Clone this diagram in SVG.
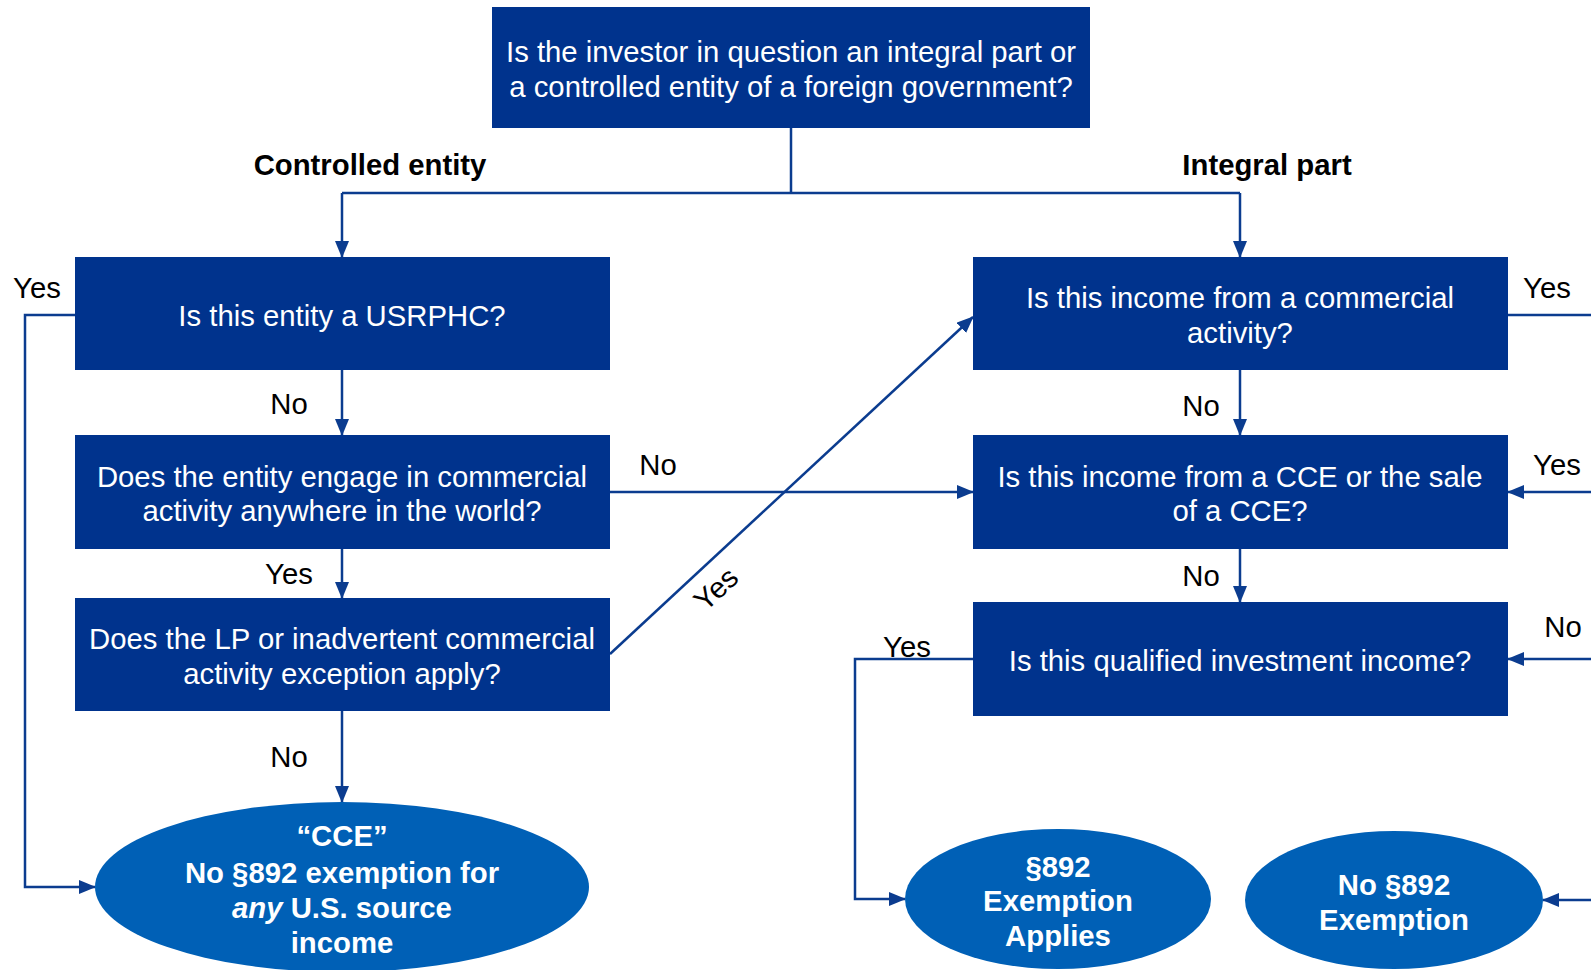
<svg xmlns="http://www.w3.org/2000/svg" width="1591" height="970" viewBox="0 0 1591 970">
<defs>
<marker id="ah" markerUnits="userSpaceOnUse" markerWidth="17" markerHeight="14" refX="16" refY="7" orient="auto">
<path d="M0,0 L17,7 L0,14 Z" fill="#0B3C8F"/>
</marker>
<style>
.box{fill:#00338D}
.ell{fill:#0060B6}
.bt{font-family:"Liberation Sans",Arial,sans-serif;font-size:29.3px;fill:#fff;text-anchor:middle}
.et{font-family:"Liberation Sans",Arial,sans-serif;font-size:29.3px;font-weight:bold;fill:#fff;text-anchor:middle}
.lb{font-family:"Liberation Sans",Arial,sans-serif;font-size:29.3px;fill:#000;text-anchor:middle}
.hd{font-family:"Liberation Sans",Arial,sans-serif;font-size:29.3px;font-weight:bold;fill:#000;text-anchor:middle}
.cn{fill:none;stroke:#0B3C8F;stroke-width:2.5}
</style>
</defs>
<rect width="1591" height="970" fill="#fff"/>
<g id="connectors">
<path class="cn" d="M791,128 V193 M342,193 H1240"/>
<path class="cn" d="M342,193 V257" marker-end="url(#ah)"/>
<path class="cn" d="M1240,193 V257" marker-end="url(#ah)"/>
<path class="cn" d="M342,370 V435" marker-end="url(#ah)"/>
<path class="cn" d="M342,549 V598" marker-end="url(#ah)"/>
<path class="cn" d="M342,711 V802" marker-end="url(#ah)"/>
<path class="cn" d="M75,315 H25 V887 H95" marker-end="url(#ah)"/>
<path class="cn" d="M610,492 H973" marker-end="url(#ah)"/>
<path class="cn" d="M610,654 L973,317" marker-end="url(#ah)"/>
<path class="cn" d="M1240,370 V435" marker-end="url(#ah)"/>
<path class="cn" d="M1240,549 V602" marker-end="url(#ah)"/>
<path class="cn" d="M1508,315 H1591"/>
<path class="cn" d="M1591,492 H1508" marker-end="url(#ah)"/>
<path class="cn" d="M1591,659 H1508" marker-end="url(#ah)"/>
<path class="cn" d="M1591,900 H1543" marker-end="url(#ah)"/>
<path class="cn" d="M973,659 H855 V899 H905" marker-end="url(#ah)"/>
</g>
<g id="labels">
<text class="hd" x="370" y="175">Controlled entity</text>
<text class="hd" x="1267" y="175">Integral part</text>
<text class="lb" x="37" y="298">Yes</text>
<text class="lb" x="289" y="414">No</text>
<text class="lb" x="289" y="584">Yes</text>
<text class="lb" x="289" y="767">No</text>
<text class="lb" x="658" y="475">No</text>
<text class="lb" x="0" y="0" transform="translate(716,589) rotate(-43)" dy="10">Yes</text>
<text class="lb" x="1201" y="416">No</text>
<text class="lb" x="1201" y="586">No</text>
<text class="lb" x="907" y="657">Yes</text>
<text class="lb" x="1547" y="298">Yes</text>
<text class="lb" x="1557" y="475">Yes</text>
<text class="lb" x="1563" y="637">No</text>
</g>
<g id="n-top">
<rect class="box" x="492" y="7" width="598" height="121"/>
<text class="bt" x="791" y="62">Is the investor in question an integral part or</text>
<text class="bt" x="791" y="97">a controlled entity of a foreign government?</text>
</g>
<g id="n-usrphc">
<rect class="box" x="75" y="257" width="535" height="113"/>
<text class="bt" x="342" y="326">Is this entity a USRPHC?</text>
</g>
<g id="n-commercial">
<rect class="box" x="75" y="435" width="535" height="114"/>
<text class="bt" x="342" y="487">Does the entity engage in commercial</text>
<text class="bt" x="342" y="521">activity anywhere in the world?</text>
</g>
<g id="n-lp">
<rect class="box" x="75" y="598" width="535" height="113"/>
<text class="bt" x="342" y="649">Does the LP or inadvertent commercial</text>
<text class="bt" x="342" y="684">activity exception apply?</text>
</g>
<g id="n-cce">
<ellipse class="ell" cx="342" cy="887" rx="247" ry="85"/>
<text class="et" x="342" y="846">“CCE”</text>
<text class="et" x="342" y="883">No §892 exemption for</text>
<text class="et" x="342" y="918"><tspan font-style="italic">any</tspan> U.S. source</text>
<text class="et" x="342" y="953">income</text>
</g>
<g id="n-income-commercial">
<rect class="box" x="973" y="257" width="535" height="113"/>
<text class="bt" x="1240" y="308">Is this income from a commercial</text>
<text class="bt" x="1240" y="343">activity?</text>
</g>
<g id="n-income-cce">
<rect class="box" x="973" y="435" width="535" height="114"/>
<text class="bt" x="1240" y="487">Is this income from a CCE or the sale</text>
<text class="bt" x="1240" y="521">of a CCE?</text>
</g>
<g id="n-qualified">
<rect class="box" x="973" y="602" width="535" height="114"/>
<text class="bt" x="1240" y="671">Is this qualified investment income?</text>
</g>
<g id="n-exempt">
<ellipse class="ell" cx="1058" cy="899" rx="153" ry="70"/>
<text class="et" x="1058" y="877">§892</text>
<text class="et" x="1058" y="911">Exemption</text>
<text class="et" x="1058" y="946">Applies</text>
</g>
<g id="n-noexempt">
<ellipse class="ell" cx="1394" cy="900" rx="149" ry="69"/>
<text class="et" x="1394" y="895">No §892</text>
<text class="et" x="1394" y="930">Exemption</text>
</g>
</svg>
